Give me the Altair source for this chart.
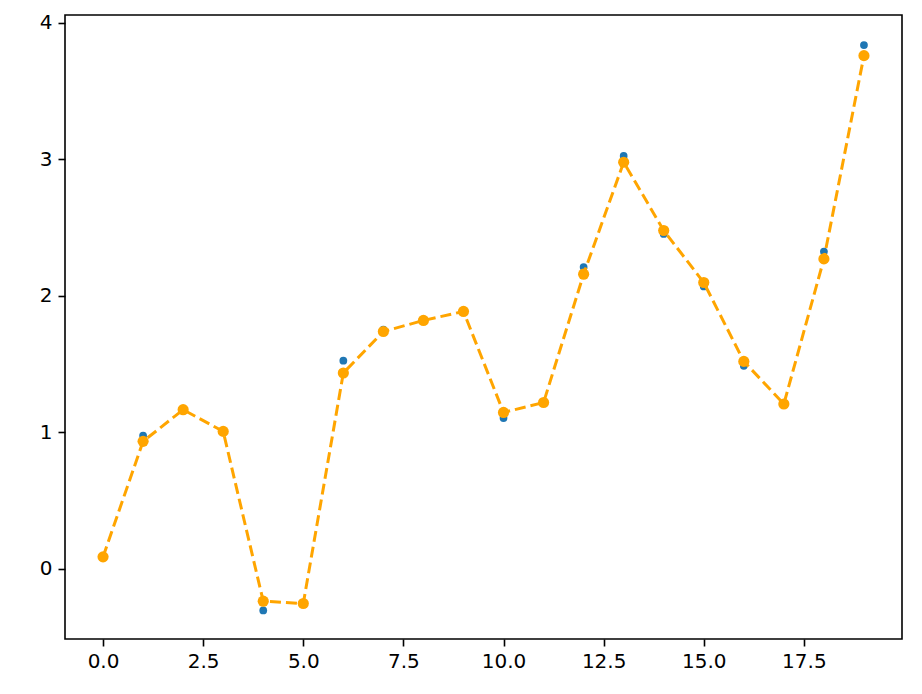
import altair as alt
import pandas as pd

x_vals = list(range(20))
raw_vals = [0.08, 0.974, 1.17, 1.0, -0.307, -0.26, 1.523, 1.75, 1.82, 1.89,
            1.103, 1.217, 2.209, 3.023, 2.452, 2.067, 1.486, 1.206, 2.323, 3.836]
smooth_vals = [0.086, 0.932, 1.164, 1.005, -0.239, -0.256, 1.433, 1.737, 1.818, 1.884,
               1.144, 1.217, 2.157, 2.977, 2.477, 2.096, 1.518, 1.206, 2.269, 3.758]
x_ticks = [0.0, 2.5, 5.0, 7.5, 10.0, 12.5, 15.0, 17.5]
y_ticks = [0, 1, 2, 3, 4]

df = pd.DataFrame({"x": x_vals, "raw": raw_vals, "smooth": smooth_vals})

FONT = "DejaVu Sans"
xscale = alt.Scale(domain=[-0.95, 19.95], nice=False, zero=False)
yscale = alt.Scale(domain=[-0.516, 4.056], nice=False, zero=False)

xaxis = alt.Axis(values=x_ticks, format=".1f", title=None, grid=False,
                 domain=False, tickColor="black", tickWidth=1.6, tickSize=7,
                 labelFont=FONT, labelFontSize=20, labelColor="black",
                 labelPadding=5, labelFlush=False)
yaxis = alt.Axis(values=y_ticks, format="d", title=None, grid=False,
                 domain=False, tickColor="black", tickWidth=1.6, tickSize=7,
                 labelFont=FONT, labelFontSize=20, labelColor="black",
                 labelPadding=6, labelFlush=False)

base = alt.Chart(df)

raw_pts = base.mark_circle(color="#1f77b4", opacity=1, size=60).encode(
    x=alt.X("x:Q", scale=xscale, axis=xaxis),
    y=alt.Y("raw:Q", scale=yscale, axis=yaxis),
)

line = base.mark_line(color="orange", strokeWidth=3, strokeDash=[11, 5]).encode(
    x=alt.X("x:Q", scale=xscale),
    y=alt.Y("smooth:Q", scale=yscale),
)

smooth_pts = base.mark_circle(color="orange", opacity=1, size=125).encode(
    x=alt.X("x:Q", scale=xscale),
    y=alt.Y("smooth:Q", scale=yscale),
)

chart = alt.layer(raw_pts, line, smooth_pts).properties(
    width=837,
    height=624,
    autosize=alt.AutoSizeParams(type="none"),
    padding={"left": 57, "top": 7, "right": 12, "bottom": 40},
).configure(
    background="white",
    view=alt.ViewConfig(stroke="black", strokeWidth=1.6),
)

chart.save("out.html", embed_options={"renderer": "svg", "actions": False})
